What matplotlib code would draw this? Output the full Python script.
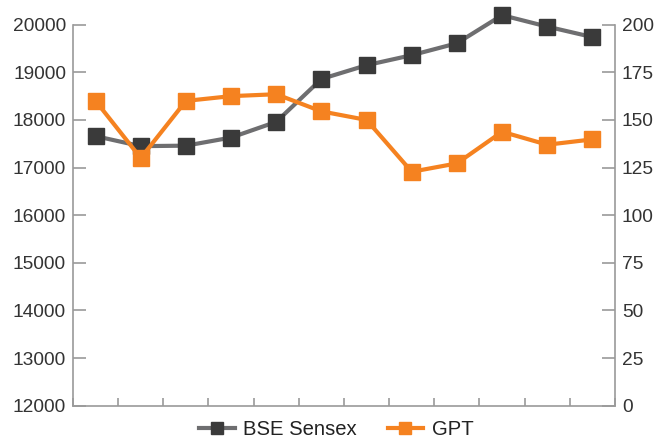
import matplotlib
matplotlib.use("Agg")
import matplotlib.pyplot as plt
import numpy as np

plt.rcParams['font.family'] = ['Liberation Sans', 'DejaVu Sans']

categories = list(range(12))
sensex = [17660, 17450, 17460, 17630, 17960, 18860, 19150, 19360, 19610, 20200, 19960, 19740]
gpt = [160, 130, 160, 162.5, 163.5, 154.5, 150, 122.8, 127.2, 143.8, 137, 139.8]
left_ticks = [12000, 13000, 14000, 15000, 16000, 17000, 18000, 19000, 20000]
right_ticks = [0, 25, 50, 75, 100, 125, 150, 175, 200]

fig = plt.figure(figsize=(6.57, 4.41), dpi=100)
ax = fig.add_axes([73/657, 1-405.7/441, (615-73)/657, (405.7-24.7)/441])
ax2 = ax.twinx()

x = np.arange(len(categories))
ax.plot(x, sensex, color='#6e6e70', lw=3, marker='s', ms=11, mfc='#3a3a3a', mec='#3a3a3a',
        clip_on=False, zorder=3, label='BSE Sensex')
ax2.plot(x, gpt, color='#f58220', lw=3, marker='s', ms=11, mfc='#f58220', mec='#f58220',
         clip_on=False, zorder=3, label='GPT')

ax.set_xlim(-0.5, len(categories)-0.5)
ax.set_ylim(12000, 20000)
ax2.set_ylim(0, 200)
ax.set_yticks(left_ticks)
ax2.set_yticks(right_ticks)
ax.set_xticks(np.arange(len(categories)+1) - 0.5)
ax.set_xticklabels([])

gc = '#9a9a9a'
tc = '#333333'
for a in (ax, ax2):
    for s in a.spines.values():
        s.set_color(gc)
        s.set_linewidth(1.2)
    a.spines['top'].set_visible(False)
ax.spines['right'].set_visible(False)
ax2.spines['left'].set_visible(False)
ax2.spines['bottom'].set_visible(False)

ax.tick_params(axis='y', direction='in', length=9.5, width=1.2, color=gc, labelsize=13.8, labelcolor=tc, pad=5)
ax2.tick_params(axis='y', direction='in', length=9.5, width=1.2, color=gc, labelsize=13.8, labelcolor=tc, pad=5)
ax.tick_params(axis='x', direction='in', length=6, width=1.2, color=gc)

h1, l1 = ax.get_legend_handles_labels()
h2, l2 = ax2.get_legend_handles_labels()
leg = fig.legend(h1+h2, l1+l2, loc='center', bbox_to_anchor=(0.512, 0.025), ncol=2, frameon=False,
                 fontsize=14.6, handlelength=1.75, columnspacing=1.5, handletextpad=0.43, markerscale=0.78,
                 borderaxespad=0, borderpad=0)
for t in leg.get_texts():
    t.set_color('#222222')

fig.savefig('out.png', dpi=100)
